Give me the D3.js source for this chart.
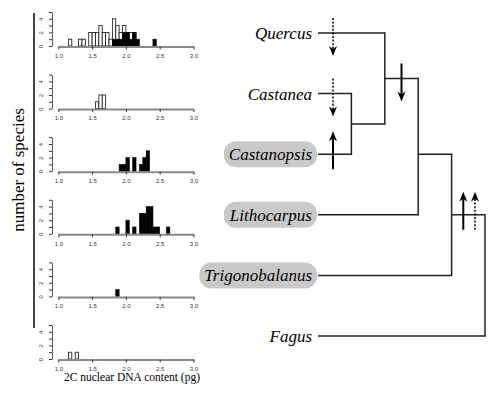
<!DOCTYPE html>
<html>
<head>
<meta charset="utf-8">
<script src="https://cdn.jsdelivr.net/npm/d3@7"></script>
<style>
  body { margin: 0; background: #fff; }
  svg { display: block; }
  .tick text { font-family: "Liberation Sans", Arial, sans-serif; fill: #333; }
</style>
</head>
<body>
<div id="chart"></div>
<script>

// histogram bins: [bin start (pg), number of species]
var binWidth = 0.05;
var xTicks = [1.0, 1.5, 2.0, 2.5, 3.0];
var yTicks = [0, 1, 2, 3, 4, 5];

var quercusOpen = [[1.15,1],[1.30,1],[1.35,1],[1.45,2],[1.50,2],[1.55,2],[1.60,3],[1.65,2],[1.70,2],[1.75,1],
                   [1.80,4],[1.85,3],[1.90,2],[1.95,3],[2.00,2],[2.05,2],[2.10,2]];
var quercusFilled = [[1.80,1],[1.85,1],[1.90,1],[1.95,2],[2.00,2],[2.05,1],[2.10,2],[2.15,1],[2.40,1]];
var castaneaOpen = [[1.55,1],[1.60,2],[1.65,2]];
var castanopsisFilled = [[1.90,1],[1.95,1],[2.00,2],[2.10,2],[2.20,1],[2.25,2],[2.30,3]];
var lithocarpusFilled = [[1.85,1],[2.00,2],[2.10,1],[2.20,3],[2.25,3],[2.30,4],[2.35,4],[2.40,1],[2.45,1],[2.60,1]];
var trigonobalanusFilled = [[1.85,1]];
var fagusOpen = [[1.15,1],[1.25,1]];

var panels = [
  {open: quercusOpen, filled: quercusFilled},
  {open: castaneaOpen, filled: []},
  {open: [], filled: castanopsisFilled},
  {open: [], filled: lithocarpusFilled},
  {open: [], filled: trigonobalanusFilled},
  {open: fagusOpen, filled: []}
];

// tree
var taxa = ["Quercus", "Castanea", "Castanopsis", "Lithocarpus", "Trigonobalanus", "Fagus"];
var highlighted = ["Castanopsis", "Lithocarpus", "Trigonobalanus"];
// each node: depth, row where its parent stem attaches, children as [depth, row]
var nodes = [
  {depth: 1, row: 1.5,  children: [[0, 1], [0, 2]]},
  {depth: 2, row: 0.75, children: [[0, 0], [1, 1.5]]},
  {depth: 3, row: 2,    children: [[2, 0.75], [0, 3]]},
  {depth: 4, row: 3,    children: [[3, 2], [0, 4]]},
  {depth: 5, row: 5,    children: [[4, 3], [0, 5]]}
];
var arrows = [
  {depth: 0.45, row: 0,    dir: "down", dotted: true},
  {depth: 0.45, row: 1,    dir: "down", dotted: true},
  {depth: 0.45, row: 2,    dir: "up",   dotted: false},
  {depth: 2.5,  row: 0.75, dir: "down", dotted: false},
  {depth: 4.35, row: 3,    dir: "up",   dotted: false},
  {depth: 4.7,  row: 3,    dir: "up",   dotted: true}
];

var width = 500, height = 395;

var svg = d3.select("#chart").append("svg")
  .attr("width", width)
  .attr("height", height);

// ---------- histograms ----------
var x = d3.scaleLinear().domain([1, 3]).range([58.3, 193.5]);
var panelBase = d3.scaleLinear().domain([0, 5]).range([46, 359]);

panels.forEach(function(p, i) {
  var base = panelBase(i);
  var y = d3.scaleLinear().domain([0, 5]).range([base, base - 34]);
  var g = svg.append("g");

  g.selectAll(".open")
    .data(p.open)
    .enter().append("rect")
    .attr("x", function(d) { return x(d[0]); })
    .attr("y", function(d) { return y(d[1]); })
    .attr("width", x(1 + binWidth) - x(1))
    .attr("height", function(d) { return y(0) - y(d[1]); })
    .attr("fill", "#fff")
    .attr("stroke", "#111")
    .attr("stroke-width", 0.8);

  g.selectAll(".filled")
    .data(p.filled)
    .enter().append("rect")
    .attr("x", function(d) { return x(d[0]); })
    .attr("y", function(d) { return y(d[1]); })
    .attr("width", x(1 + binWidth) - x(1))
    .attr("height", function(d) { return y(0) - y(d[1]); })
    .attr("fill", "#000")
    .attr("stroke", "#000")
    .attr("stroke-width", 0.6);

  var xa = g.append("g")
    .attr("transform", "translate(0," + (base + 0.5) + ")")
    .call(d3.axisBottom(x).tickValues(xTicks).tickFormat(d3.format(".1f"))
      .tickSize(3).tickSizeOuter(0).tickPadding(4));
  xa.select(".domain").attr("stroke", "#8a8a8a").attr("stroke-width", 2);
  xa.selectAll(".tick line").attr("stroke", "#333");
  xa.selectAll(".tick text").attr("font-size", 6);

  var ya = g.append("g")
    .attr("transform", "translate(52,0)")
    .call(d3.axisLeft(y).tickValues(yTicks)
      .tickFormat(function(d) { return d % 2 ? "" : d; })
      .tickSize(3).tickSizeOuter(0));
  ya.select(".domain").attr("stroke", "#333").attr("stroke-width", 0.8);
  ya.selectAll(".tick line").attr("stroke", "#333");
  ya.selectAll(".tick text")
    .attr("font-size", 6)
    .attr("text-anchor", "middle")
    .attr("x", 0)
    .attr("y", 0)
    .attr("dy", null)
    .attr("transform", "translate(-9.5,0) rotate(-90)");
});

// left bar and labels
svg.append("line")
  .attr("x1", 34).attr("x2", 34)
  .attr("y1", 13).attr("y2", 328)
  .attr("stroke", "#444").attr("stroke-width", 2);

svg.append("text")
  .attr("transform", "translate(24,170) rotate(-90)")
  .attr("text-anchor", "middle")
  .style("font-family", "'Liberation Serif', 'Times New Roman', serif")
  .style("font-size", "17px")
  .text("number of species");

svg.append("text")
  .attr("x", 132).attr("y", 381)
  .attr("text-anchor", "middle")
  .style("font-family", "'Liberation Serif', 'Times New Roman', serif")
  .style("font-size", "11.5px")
  .text("2C nuclear DNA content (pg)");

// ---------- tree ----------
var tx = d3.scaleLinear().domain([0, 5]).range([318, 485]);
var ty = d3.scaleLinear().domain([0, 5]).range([33, 336]);
var tree = svg.append("g").attr("stroke", "#222").attr("stroke-width", 1.5).attr("fill", "none");

nodes.forEach(function(n) {
  var rows = n.children.map(function(c) { return c[1]; });
  tree.append("line")
    .attr("x1", tx(n.depth)).attr("x2", tx(n.depth))
    .attr("y1", ty(d3.min(rows)) - 0.75).attr("y2", ty(d3.max(rows)) + 0.75);
  n.children.forEach(function(c) {
    tree.append("line")
      .attr("x1", tx(c[0])).attr("x2", tx(n.depth))
      .attr("y1", ty(c[1])).attr("y2", ty(c[1]));
  });
});

// tip labels
var labels = svg.append("g");
taxa.forEach(function(name, i) {
  var lg = labels.append("g");
  var t = lg.append("text")
    .attr("x", tx(0) - 6)
    .attr("y", ty(i) + 6)
    .attr("text-anchor", "end")
    .style("font-family", "'Liberation Serif', 'Times New Roman', serif")
    .style("font-style", "italic")
    .style("font-size", "17px")
    .text(name);
  if (highlighted.indexOf(name) >= 0) {
    var bb = t.node().getBBox();
    lg.insert("rect", "text")
      .attr("x", bb.x - 5)
      .attr("y", ty(i) - 13)
      .attr("width", tx(0) - 1 - (bb.x - 5))
      .attr("height", 26)
      .attr("rx", 12)
      .attr("fill", "#c9c9c9");
  }
});

// arrows
var tail = 15, head = 23;
arrows.forEach(function(a) {
  var ax = tx(a.depth), ay = ty(a.row);
  var s = a.dir === "down" ? 1 : -1;
  var y0 = ay - s * tail, y1 = ay + s * head;
  svg.append("line")
    .attr("x1", ax).attr("x2", ax)
    .attr("y1", y0).attr("y2", y1 - s * 6)
    .attr("stroke", "#000")
    .attr("stroke-width", a.dotted ? 1.5 : 2)
    .attr("stroke-dasharray", a.dotted ? "2,1.6" : null);
  svg.append("path")
    .attr("d", "M" + ax + "," + y1 +
      "L" + (ax - 4) + "," + (y1 - s * 10) +
      "L" + ax + "," + (y1 - s * 7) +
      "L" + (ax + 4) + "," + (y1 - s * 10) + "Z")
    .attr("fill", "#000");
});

</script>
</body>
</html>
